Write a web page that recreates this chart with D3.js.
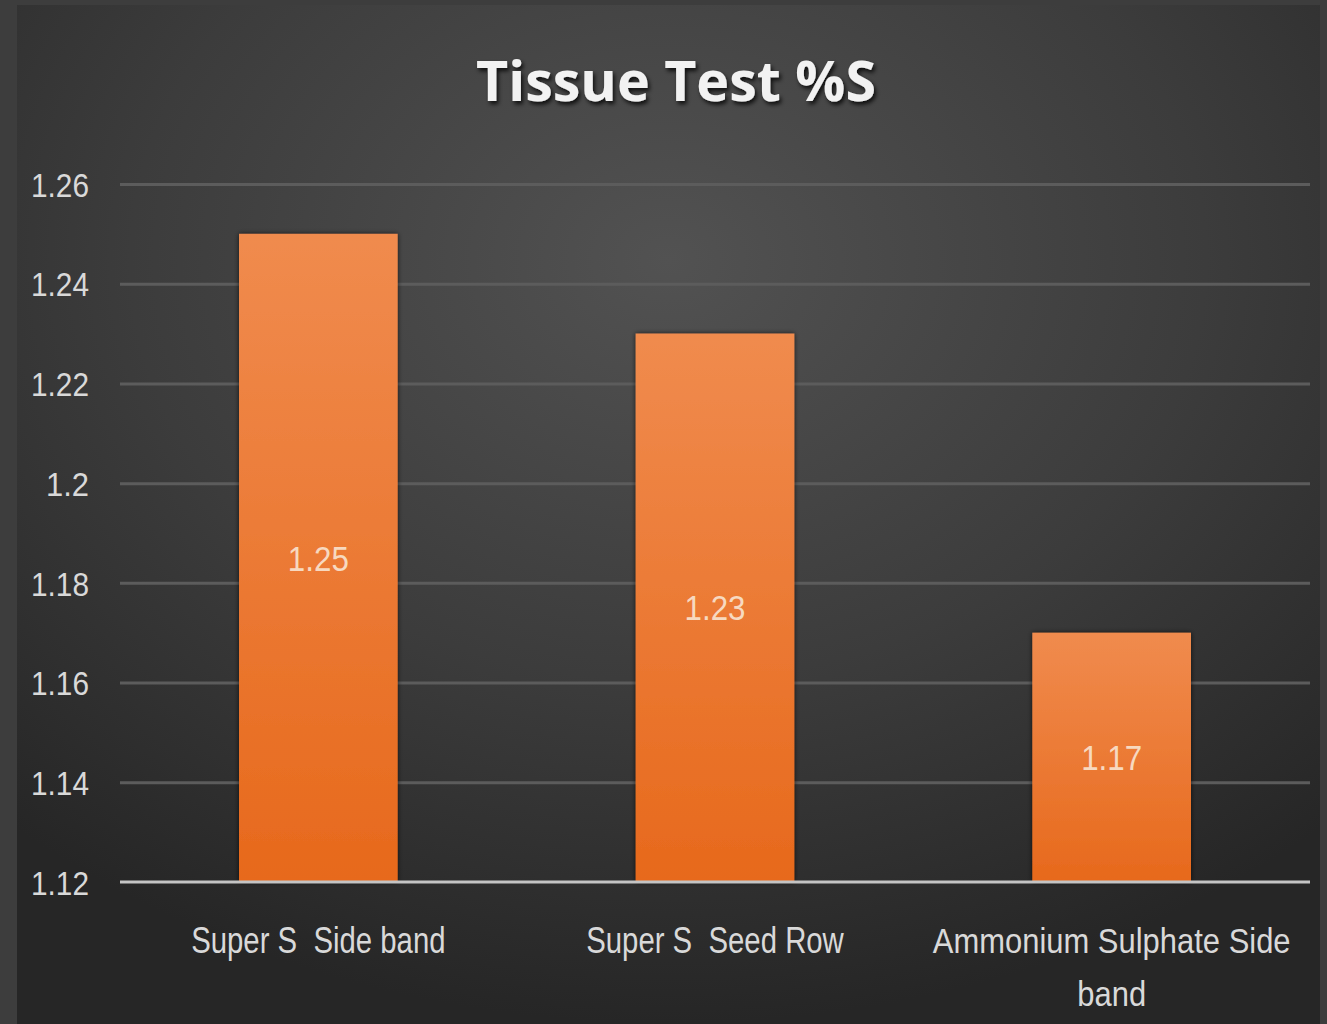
<!DOCTYPE html>
<html><head><meta charset="utf-8">
<script src="https://cdn.jsdelivr.net/npm/d3@7"></script>
<style>
html,body{margin:0;padding:0;background:#3d3d3d;}
svg{display:block;}
</style></head>
<body>
<svg id="c" width="1327" height="1024"></svg>
<script>
const categories = ["Super S  Side band", "Super S  Seed Row", "Ammonium Sulphate Side band"];
const values = [1.25, 1.23, 1.17];
const valueLabels = ["1.25", "1.23", "1.17"];
const tickValues = [1.12, 1.14, 1.16, 1.18, 1.20, 1.22, 1.24, 1.26];
const tickLabels = ["1.12", "1.14", "1.16", "1.18", "1.2", "1.22", "1.24", "1.26"];
const title = "Tissue Test %S";

const W = 1327, H = 1024;
const FONT = "'Liberation Sans','Arimo',sans-serif";
const svg = d3.select("#c");
const defs = svg.append("defs");

const bg = defs.append("radialGradient").attr("id","bg")
  .attr("cx","50%").attr("cy","25%").attr("r","75%");
bg.append("stop").attr("offset","0%").attr("stop-color","#525252");
bg.append("stop").attr("offset","55%").attr("stop-color","#3c3c3c");
bg.append("stop").attr("offset","100%").attr("stop-color","#262626");

const bargrad = defs.append("linearGradient").attr("id","bar")
  .attr("x1","0").attr("y1","0").attr("x2","0").attr("y2","1");
bargrad.append("stop").attr("offset","0%").attr("stop-color","#f08b4e");
bargrad.append("stop").attr("offset","100%").attr("stop-color","#e7691c");

const sh = defs.append("filter").attr("id","sh").attr("x","-10%").attr("y","-10%").attr("width","120%").attr("height","120%");
sh.append("feDropShadow").attr("dx",0).attr("dy",0).attr("stdDeviation",2.5).attr("flood-color","#000").attr("flood-opacity",0.7);

const tsh = defs.append("filter").attr("id","tsh").attr("x","-10%").attr("y","-20%").attr("width","120%").attr("height","150%");
tsh.append("feDropShadow").attr("dx",2).attr("dy",3).attr("stdDeviation",2).attr("flood-color","#000").attr("flood-opacity",0.8);

svg.append("rect").attr("width",W).attr("height",H).attr("fill","#3d3d3d");
svg.append("rect").attr("x",17).attr("y",5).attr("width",1303).attr("height",H-5).attr("fill","url(#bg)");

const plot = {left:120, right:1310, top:184, bottom:882};

const x = d3.scaleBand().domain(categories).range([plot.left, plot.right]).paddingInner(0.6).paddingOuter(0.3);
const y = d3.scaleLinear().domain([1.12, 1.26]).range([plot.bottom, plot.top]);

// gridlines
const grid = d3.axisLeft(y).tickValues(tickValues.slice(1)).tickSize(-(plot.right-plot.left)).tickFormat("");
const gg = svg.append("g").attr("transform",`translate(${plot.left},0)`).call(grid);
gg.select(".domain").remove();
gg.selectAll("line").attr("stroke","#5c5c5c").attr("stroke-width",3);

// y tick labels
const yax = d3.axisLeft(y).tickValues(tickValues).tickSize(0).tickPadding(0)
  .tickFormat((d,i)=>tickLabels[i]);
const yg = svg.append("g").attr("transform",`translate(89,0)`).call(yax);
yg.select(".domain").remove();
yg.selectAll("text").attr("fill","#d9d9d9").attr("font-family",FONT)
  .attr("font-size",34).attr("dy","0.36em")
  .attr("textLength",(d,i)=>tickLabels[i].length===4?58:43).attr("lengthAdjust","spacingAndGlyphs");

// bars
svg.append("g").selectAll("rect").data(values).join("rect")
  .attr("x",(d,i)=>x(categories[i]))
  .attr("y",d=>y(d))
  .attr("width",x.bandwidth())
  .attr("height",d=>y(1.12)-y(d))
  .attr("fill","url(#bar)")
  .attr("filter","url(#sh)");

// value labels
svg.append("g").selectAll("text").data(values).join("text")
  .attr("x",(d,i)=>x(categories[i])+x.bandwidth()/2)
  .attr("y",d=>(y(d)+y(1.12))/2)
  .attr("dy","0.36em")
  .attr("text-anchor","middle")
  .attr("fill","#f7d9c0")
  .attr("font-family",FONT)
  .attr("font-size",35)
  .attr("textLength",61).attr("lengthAdjust","spacingAndGlyphs")
  .text((d,i)=>valueLabels[i]);

// baseline axis
const xax = d3.axisBottom(x).tickSize(0).tickFormat("");
const xg = svg.append("g").attr("transform",`translate(0,${plot.bottom})`).call(xax);
xg.select(".domain").attr("stroke","#c4c4c4").attr("stroke-width",3).attr("d",`M${plot.left},0H${plot.right}`);

// category labels with wrapping (horizontally condensed)
const catLines = [["Super S  Side band"],["Super S  Seed Row"],["Ammonium Sulphate Side","band"]];
const catScale = [0.815, 0.815, 0.86];
categories.forEach((c,i)=>{
  const cx = x(c)+x.bandwidth()/2;
  catLines[i].forEach((l,j)=>{
    svg.append("g")
      .attr("transform",`translate(${cx},${953 + j*53}) scale(${catScale[i]},1)`)
      .append("text")
      .attr("x", 0).attr("y", 0)
      .attr("text-anchor","middle")
      .attr("fill","#d9d9d9")
      .attr("font-family",FONT)
      .attr("font-size",36)
      .attr("xml:space","preserve")
      .style("white-space","pre")
      .text(l);
  });
});

// title
svg.append("text").attr("x",676).attr("y",101).attr("text-anchor","middle")
  .attr("fill","#f2f2f2").attr("font-family","'Open Sans','DejaVu Sans',sans-serif")
  .attr("font-weight","bold").attr("font-size",56)
  .attr("textLength",400).attr("lengthAdjust","spacingAndGlyphs")
  .attr("filter","url(#tsh)")
  .text(title);
</script>
</body></html>
